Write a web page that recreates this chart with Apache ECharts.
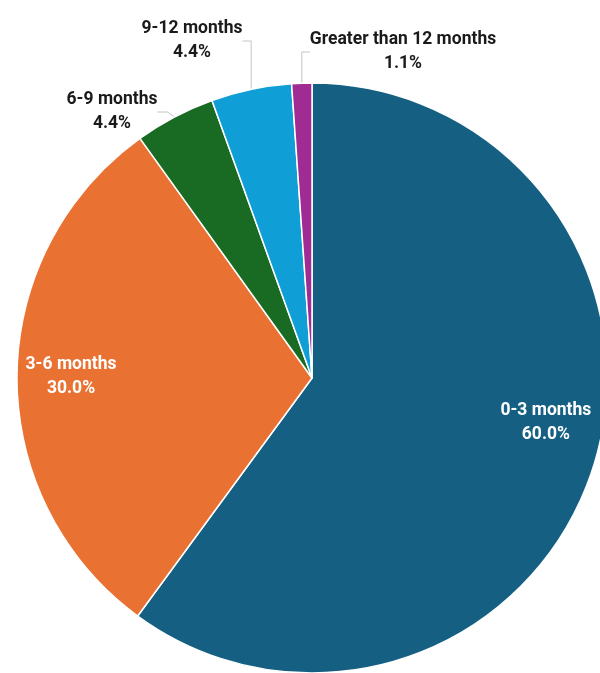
<!DOCTYPE html>
<html><head><meta charset="utf-8">
<script src="https://cdn.jsdelivr.net/npm/echarts@6/dist/echarts.min.js"></script>
<style>html,body{margin:0;padding:0;background:#fff}#c{width:600px;height:673px}</style>
</head><body><div id="c"></div>
<script>
var categories = ['0-3 months', '3-6 months', '6-9 months', '9-12 months', 'Greater than 12 months'];
var values = [60.0, 30.0, 4.4, 4.4, 1.1];
var colors = ['#156082', '#E97132', '#196B24', '#0F9ED5', '#A02B93'];

var insideNames = {'0-3 months': true, '3-6 months': true};
// outside label placement (label block centres)
var outsidePlace = {
  '6-9 months': [112, 112],
  '9-12 months': [192, 41],
  'Greater than 12 months': [403, 52]
};
// small nudges for inside labels
var insideNudge = {'0-3 months': [1, -32], '3-6 months': [4, 0]};

var chart = echarts.init(document.getElementById('c'), null, {renderer: 'canvas'});
var fmt = function (p) { return p.name + '\n' + p.value.toFixed(1) + '%'; };
var baseLabel = {formatter: fmt, fontFamily: 'Roboto', fontWeight: 'bold', fontSize: 17.5, lineHeight: 24, align: 'center', overflow: 'none'};
var nameOf = function (params) { return params.text ? params.text.split('\n')[0] : ''; };

var mainData = categories.map(function (c, i) {
  var inside = !!insideNames[c];
  return {
    name: c, value: values[i],
    itemStyle: {color: colors[i]},
    label: {show: !inside, position: 'outside', color: '#1a1a1a'},
    labelLine: {show: !inside}
  };
});
var ringData = categories.map(function (c, i) {
  var inside = !!insideNames[c];
  return {name: c, value: values[i], itemStyle: {color: 'rgba(0,0,0,0)'},
    label: {show: inside, position: 'inside', color: '#ffffff'}};
});

chart.setOption({
  animation: false,
  series: [{
    type: 'pie',
    center: [312, 378],
    radius: [0, 295],
    startAngle: 90,
    clockwise: true,
    data: mainData,
    itemStyle: {borderColor: '#ffffff', borderWidth: 1.5},
    label: baseLabel,
    labelLine: {length: 20, length2: 10, lineStyle: {color: '#c4c4c4', width: 1}},
    labelLayout: function (params) {
      var pos = outsidePlace[nameOf(params)];
      if (!pos) { return {}; }
      return {x: pos[0], y: pos[1], align: 'center', verticalAlign: 'middle'};
    }
  }, {
    type: 'pie',
    silent: true,
    center: [312, 378],
    radius: [189, 295],
    startAngle: 90,
    clockwise: true,
    data: ringData,
    itemStyle: {borderWidth: 0},
    label: baseLabel,
    labelLine: {show: false},
    labelLayout: function (params) {
      var n = insideNudge[nameOf(params)];
      if (!n) { return {}; }
      return {dx: n[0], dy: n[1]};
    }
  }]
});
</script></body></html>
